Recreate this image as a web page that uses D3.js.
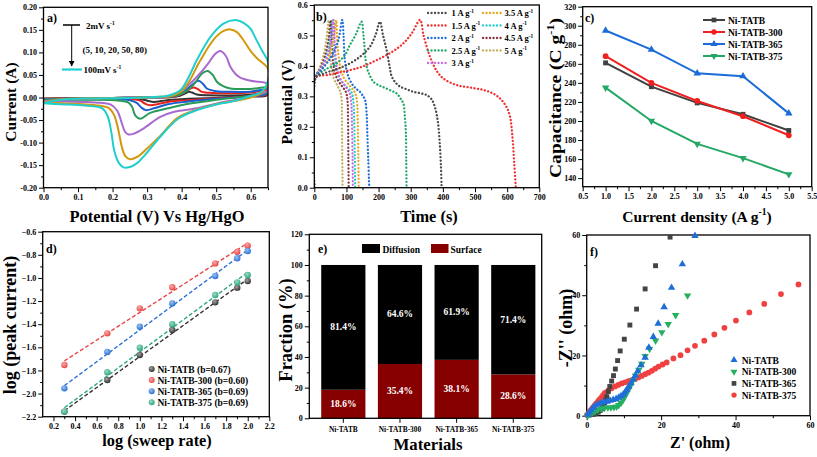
<!DOCTYPE html>
<html><head><meta charset="utf-8">
<script src="https://cdn.jsdelivr.net/npm/d3@7/dist/d3.min.js"></script>
<style>
html,body{margin:0;padding:0;background:#fff;}
svg{display:block;}
</style></head><body>
<svg id="chart" width="817" height="457"></svg>
<script>
// ================= DATA =================
// (a) CV curves at scan rates (mV/s): [potential V, current A]
const cvRates = ["2","5","10","20","50","80","100"];
const cv2 = [[0,-0.002],[0.1,-0.0015],[0.2,-0.001],[0.3,0],[0.37,0.001],[0.395,0.004],[0.41,0.009],[0.42,0.0125],[0.43,0.011],[0.444,0.0067],[0.48,0.005],[0.541,0.0045],[0.6,0.006],[0.65,0.011],[0.645,0.004],[0.6,0.002],[0.5,-0.001],[0.42,-0.003],[0.37,-0.005],[0.34,-0.008],[0.32,-0.0098],[0.305,-0.008],[0.29,-0.005],[0.26,-0.003],[0.15,-0.002],[0,-0.002]];
const cv5 = [[0,-0.003],[0.1,-0.002],[0.2,-0.001],[0.3,0],[0.37,0.001],[0.395,0.006],[0.415,0.015],[0.434,0.022],[0.446,0.019],[0.459,0.0125],[0.49,0.01],[0.541,0.0095],[0.6,0.011],[0.65,0.0155],[0.645,0.006],[0.6,0.003],[0.5,-0.002],[0.42,-0.006],[0.36,-0.01],[0.33,-0.015],[0.309,-0.017],[0.295,-0.014],[0.28,-0.007],[0.26,-0.004],[0.15,-0.003],[0,-0.003]];
const cv10 = [[0,-0.004],[0.1,-0.002],[0.2,-0.001],[0.3,0],[0.37,0.002],[0.4,0.009],[0.425,0.025],[0.449,0.037],[0.462,0.03],[0.473,0.02],[0.5,0.014],[0.541,0.0125],[0.6,0.013],[0.65,0.018],[0.645,0.008],[0.6,0.003],[0.5,-0.003],[0.42,-0.009],[0.36,-0.015],[0.32,-0.024],[0.297,-0.028],[0.283,-0.022],[0.27,-0.012],[0.25,-0.006],[0.15,-0.004],[0,-0.004]];
const cv20 = [[0,-0.005],[0.1,-0.002],[0.2,-0.001],[0.3,0],[0.37,0.002],[0.405,0.01],[0.434,0.028],[0.459,0.053],[0.475,0.059],[0.49,0.05],[0.502,0.035],[0.52,0.025],[0.541,0.02],[0.6,0.019],[0.65,0.022],[0.645,0.011],[0.6,0.004],[0.5,-0.005],[0.42,-0.014],[0.36,-0.024],[0.309,-0.034],[0.28,-0.047],[0.266,-0.04],[0.256,-0.02],[0.245,-0.011],[0.22,-0.007],[0.12,-0.005],[0,-0.005]];
const cv50 = [[0,-0.008],[0.1,-0.003],[0.2,-0.001],[0.3,0],[0.36,0.002],[0.395,0.012],[0.43,0.035],[0.455,0.055],[0.478,0.077],[0.495,0.095],[0.512,0.103],[0.528,0.092],[0.541,0.068],[0.556,0.052],[0.57,0.044],[0.6,0.037],[0.65,0.03],[0.648,0.015],[0.62,0.006],[0.58,-0.002],[0.52,-0.01],[0.444,-0.024],[0.376,-0.032],[0.338,-0.043],[0.289,-0.069],[0.262,-0.08],[0.246,-0.082],[0.236,-0.076],[0.226,-0.055],[0.214,-0.03],[0.195,-0.016],[0.15,-0.011],[0.05,-0.009],[0,-0.008]];
const cv80 = [[0,-0.011],[0.05,-0.004],[0.15,-0.002],[0.25,-0.001],[0.33,0.001],[0.37,0.004],[0.4,0.014],[0.425,0.04],[0.451,0.078],[0.492,0.128],[0.52,0.147],[0.541,0.151],[0.56,0.145],[0.579,0.127],[0.6,0.103],[0.618,0.087],[0.65,0.064],[0.648,0.03],[0.63,0.01],[0.6,0.0],[0.55,-0.008],[0.5,-0.015],[0.444,-0.027],[0.39,-0.044],[0.338,-0.085],[0.3,-0.113],[0.275,-0.13],[0.25,-0.137],[0.237,-0.13],[0.227,-0.11],[0.217,-0.073],[0.205,-0.04],[0.19,-0.024],[0.15,-0.017],[0.05,-0.013],[0,-0.011]];
const cv100 = [[0,-0.013],[0.05,-0.005],[0.15,-0.002],[0.25,-0.001],[0.32,0.001],[0.36,0.004],[0.396,0.016],[0.42,0.045],[0.444,0.083],[0.483,0.134],[0.521,0.164],[0.56,0.1715],[0.58,0.165],[0.599,0.153],[0.615,0.13],[0.632,0.105],[0.65,0.079],[0.649,0.035],[0.63,0.012],[0.589,0.001],[0.55,-0.008],[0.492,-0.017],[0.444,-0.028],[0.39,-0.047],[0.338,-0.087],[0.3,-0.122],[0.27,-0.146],[0.25,-0.154],[0.232,-0.155],[0.218,-0.145],[0.205,-0.118],[0.196,-0.075],[0.185,-0.04],[0.17,-0.024],[0.12,-0.018],[0.05,-0.015],[0,-0.013]];

// (b) GCD curves at current densities (A/g): [time s, potential V]
const gcdDensities = ["1","1.5","2","2.5","3","3.5","4","4.5","5"];
const gcd1 = [[0,0],[3,0.36],[30,0.375],[70,0.39],[101,0.403],[142,0.43],[173,0.463],[190,0.5],[204,0.545],[214,0.5],[225,0.452],[234,0.4],[241,0.365],[253,0.345],[267,0.332],[290,0.322],[308,0.315],[330,0.31],[350,0.304],[365,0.29],[375,0.266],[384,0.22],[390,0.15],[394,0.07],[396,0]];
const gcd15 = [[0,0],[3,0.36],[40,0.37],[111,0.386],[150,0.398],[194,0.419],[240,0.445],[277,0.474],[305,0.51],[329,0.551],[340,0.5],[360,0.43],[380,0.385],[401,0.359],[443,0.337],[490,0.328],[526,0.321],[555,0.31],[578,0.293],[598,0.265],[609,0.233],[617,0.16],[622,0.08],[627,0]];
const gcd2 = [[0,0],[3,0.36],[20,0.385],[40,0.41],[60,0.445],[75,0.485],[87,0.551],[91,0.5],[95,0.42],[103,0.375],[116,0.343],[130,0.325],[142,0.315],[152,0.3],[158,0.288],[163,0.24],[165,0.178],[168,0.09],[171,0]];
const gcd25 = [[0,0],[3,0.36],[30,0.385],[69,0.408],[95,0.435],[111,0.469],[130,0.505],[147,0.545],[153,0.5],[163,0.397],[172,0.37],[184,0.348],[200,0.337],[215,0.33],[240,0.318],[256,0.31],[270,0.29],[277,0.277],[282,0.23],[285,0.178],[286,0.09],[287,0]];
const gcd3 = [[0,0],[3,0.36],[20,0.39],[40,0.43],[52,0.48],[60,0.55],[64,0.47],[70,0.4],[80,0.36],[95,0.335],[108,0.315],[114,0.29],[117,0.22],[119,0.1],[120,0]];
const gcd35 = [[0,0],[3,0.36],[25,0.39],[45,0.43],[60,0.49],[68,0.55],[72,0.47],[80,0.4],[92,0.36],[110,0.335],[125,0.315],[132,0.29],[135,0.22],[137,0.1],[138,0]];
const gcd4 = [[0,0],[3,0.36],[20,0.39],[38,0.43],[50,0.49],[57,0.55],[61,0.47],[67,0.4],[78,0.36],[96,0.335],[115,0.315],[121,0.29],[124,0.22],[126,0.1],[127,0]];
const gcd45 = [[0,0],[3,0.36],[18,0.39],[33,0.43],[45,0.49],[51,0.55],[55,0.47],[60,0.4],[70,0.36],[85,0.335],[98,0.315],[103,0.29],[105,0.22],[106,0.1],[107,0]];
const gcd5 = [[0,0],[3,0.36],[15,0.39],[28,0.43],[38,0.49],[45,0.55],[48,0.47],[52,0.4],[60,0.36],[72,0.335],[81,0.315],[85,0.29],[86,0.22],[87,0.1],[88,0]];

// (c) specific capacity
const sampleNames = ["Ni-TATB","Ni-TATB-300","Ni-TATB-365","Ni-TATB-375"];
const currentDensity = [1,2,3,4,5];
const capTATB = [261,236,219,207,190];
const cap300 = [268,240,221,205,185];
const cap365 = [295,275,250,247,208];
const cap375 = [235,200,176,161,144];

// (d) log(peak current) vs log(sweep rate)
const logSweep = [0.301,0.699,1.0,1.301,1.699,1.903,2.0];
const logTATB = [-2.156,-1.882,-1.666,-1.45,-1.211,-1.084,-1.027];
const log300 = [-1.753,-1.479,-1.263,-1.081,-0.874,-0.773,-0.721];
const log365 = [-1.955,-1.64,-1.421,-1.22,-0.983,-0.83,-0.767];
const log375 = [-2.156,-1.816,-1.603,-1.401,-1.148,-1.038,-0.975];
const bValues = [0.67,0.60,0.69,0.69];
const fitIntercept = [-2.35,-1.898,-2.139,-2.33];

// (e) capacitive contribution
const materials = ["Ni-TATB","Ni-TATB-300","Ni-TATB-365","Ni-TATB-375"];
const diffusionPct = [81.4,64.6,61.9,71.4];
const surfacePct = [18.6,35.4,38.1,28.6];

// (f) Nyquist plots [Z', -Z'']
const eisTATB = [[0.3,0.4],[0.7,1.1],[1.2,1.9],[1.8,2.7],[2.4,3.4],[3.1,3.9],[3.9,4.3],[4.7,4.5],[5.5,4.7],[6.3,5.0],[7.1,5.3],[7.9,5.6],[8.6,6.0],[9.2,6.5],[9.8,7.0],[10.3,7.8],[10.8,8.7],[11.3,9.7],[11.9,10.8],[12.5,12.1],[13.1,13.3],[13.7,14.8],[14.6,16.8],[15.7,19.3],[16.7,22.6],[17.9,26.2],[19.2,30.6],[20.8,36.1],[22.8,42.5],[25.7,50.3],[29.1,59.7]];
const eis300 = [[0.3,0.1],[0.9,0.5],[1.5,1.0],[2.2,1.4],[3.0,1.9],[3.9,2.3],[4.8,2.6],[5.7,2.7],[6.5,2.7],[7.3,2.8],[8.0,3.0],[8.6,3.5],[9.2,4.2],[9.7,5.1],[10.2,6.2],[10.7,7.4],[11.2,8.6],[11.8,10.0],[12.4,11.6],[13.1,13.3],[14.0,15.2],[14.8,17.2],[15.7,19.8],[16.9,22.2],[18.5,24.9],[20.2,27.7],[21.9,30.4],[23.9,33.4],[27.1,39.9]];
const eis365 = [[0.4,0.2],[0.9,0.3],[1.4,0.4],[2.0,0.5],[2.6,0.8],[3.1,1.2],[3.6,1.7],[4.0,2.3],[4.4,3.1],[4.8,4.2],[5.1,5.3],[5.4,6.3],[5.8,8.0],[6.2,9.7],[6.7,11.5],[7.2,13.3],[7.7,15.5],[8.3,18.3],[9.0,21.5],[10.1,25.4],[11.6,30.1],[13.4,35.4],[15.7,42.1],[18.5,49.8],[22.4,59.3]];
const eis375 = [[0.1,0.2],[0.4,0.7],[0.7,1.2],[1.0,1.7],[1.4,2.3],[1.8,2.9],[2.2,3.5],[2.6,4.1],[3.0,4.7],[3.4,5.3],[3.9,6.0],[4.4,6.8],[4.9,7.6],[5.8,8.4],[6.7,9.1],[7.6,9.7],[8.5,10.2],[9.4,10.7],[10.3,11.1],[11.2,11.5],[12.1,11.8],[13.0,12.2],[13.9,12.7],[14.8,13.2],[15.7,13.8],[16.6,14.3],[17.5,14.9],[18.4,15.6],[19.3,16.3],[20.4,17.0],[21.5,17.7],[23.3,19.0],[25.2,20.1],[27.1,21.7],[29.1,23.2],[31.6,24.9],[34.3,27.0],[37.0,29.2],[40.1,31.6],[43.7,34.3],[47.7,37.1],[52.2,40.4],[56.9,43.6]];

// ================= DRAWING =================
const svg = d3.select("#chart");
const defs = svg.append("defs");
const FF = '"Liberation Serif","Times New Roman",Times,serif';
const TICK_FS = 8;

function styleAxis(sel, fs){
  sel.attr("font-family",null).attr("font-size",null);
  sel.select(".domain").remove();
  sel.selectAll(".tick line").attr("stroke","#000").attr("stroke-width",1);
  sel.selectAll(".tick text").attr("font-family",FF).attr("font-weight","bold")
     .attr("font-size",fs||TICK_FS).attr("fill","#000");
}
let clipN = 0;
function panel(o){
  const g = svg.append("g");
  const x = o.xScale || d3.scaleLinear().domain(o.xd).range([o.l,o.r]);
  const y = d3.scaleLinear().domain(o.yd).range([o.b,o.t]);
  const id = "clip"+(clipN++);
  defs.append("clipPath").attr("id",id).append("rect")
    .attr("x",o.l).attr("y",o.t).attr("width",o.r-o.l).attr("height",o.b-o.t);
  const plot = g.append("g").attr("clip-path",`url(#${id})`);
  const ax = g.append("g");
  if(o.xMinor) ax.append("g").attr("transform",`translate(0,${o.b})`)
     .call(d3.axisBottom(x).tickValues(o.xMinor).tickSize(2.5).tickFormat("")).call(styleAxis);
  ax.append("g").attr("transform",`translate(0,${o.b})`)
     .call(d3.axisBottom(x).tickValues(o.xMajor).tickSize(4.5).tickPadding(o.xPad||2.5).tickFormat(o.xFmt)).call(styleAxis,o.xFs);
  if(o.yMinor) ax.append("g").attr("transform",`translate(${o.l},0)`)
     .call(d3.axisLeft(y).tickValues(o.yMinor).tickSize(2.5).tickFormat("")).call(styleAxis);
  ax.append("g").attr("transform",`translate(${o.l},0)`)
     .call(d3.axisLeft(y).tickValues(o.yMajor).tickSize(4.5).tickPadding(2).tickFormat(o.yFmt)).call(styleAxis);
  ax.append("rect").attr("x",o.l).attr("y",o.t).attr("width",o.r-o.l).attr("height",o.b-o.t)
    .attr("fill","none").attr("stroke","#000").attr("stroke-width",1.3);
  const free = g.append("g");
  return {g,plot,free,x,y};
}
function rich(sel, parts, fs){
  let up=false;
  parts.forEach(p=>{
    const t = sel.append("tspan");
    if(p[0]==="^"){ t.attr("font-size",fs*0.62).attr("dy",-fs*0.4).text(p.slice(1)); up=true; }
    else { if(up){ t.attr("dy",fs*0.4); up=false; } t.text(p); }
  });
}
function label(g,x,y,parts,fs,opt={}){
  const t = g.append("text").attr("x",x).attr("y",y).attr("font-family",FF).attr("font-weight","bold")
    .attr("font-size",fs).attr("fill",opt.fill||"#000").attr("text-anchor",opt.anchor||"start");
  if(opt.rotate) t.attr("transform",`rotate(-90,${x},${y})`);
  if(opt.db) t.attr("dominant-baseline",opt.db);
  if(opt.len) t.attr("textLength",opt.len).attr("lengthAdjust","spacingAndGlyphs");
  rich(t,parts,fs);
  return t;
}
const rng = (a,b,s)=>d3.range(Math.round((b-a)/s)+1).map(i=>+(a+i*s).toFixed(6));

// ---------- (a) ----------
const cvColors = ["#333333","#e8201c","#1a5fd0","#2a9a58","#a96ad0","#d4980c","#1fcfcf"];
const cvCurves = [cv2,cv5,cv10,cv20,cv50,cv80,cv100];
const A = panel({l:43.5,r:268,t:7.3,b:187.7,xd:[0,0.65],yd:[-0.2,0.2],
  xMajor:rng(0,0.6,0.1), xMinor:rng(0.05,0.65,0.1), xFmt:d3.format(".1f"),
  yMajor:rng(-0.2,0.2,0.05), yMinor:rng(-0.175,0.175,0.05), yFmt:d=>d3.format(".2f")(d).replace("\u2212","-")});
const cvLine = d3.line().x(d=>A.x(d[0])).y(d=>A.y(d[1])).curve(d3.curveCatmullRom.alpha(0.5));
cvCurves.forEach((c,i)=>{
  A.plot.append("path").attr("d",cvLine(c)).attr("fill","none").attr("stroke",cvColors[i])
    .attr("stroke-width",2).attr("stroke-linejoin","round");
});
defs.append("marker").attr("id","arr").attr("viewBox","0 0 10 10").attr("refX",9).attr("refY",5)
  .attr("markerWidth",6).attr("markerHeight",6).attr("orient","auto")
  .append("path").attr("d","M0,0L10,5L0,10z").attr("fill","#000");
A.free.append("line").attr("x1",63).attr("x2",80).attr("y1",25).attr("y2",25).attr("stroke","#000").attr("stroke-width",1.5);
A.free.append("line").attr("x1",71.7).attr("x2",71.7).attr("y1",25).attr("y2",66).attr("stroke","#000").attr("stroke-width",1).attr("marker-end","url(#arr)");
A.free.append("line").attr("x1",62).attr("x2",82).attr("y1",69.5).attr("y2",69.5).attr("stroke",cvColors[6]).attr("stroke-width",2.2);
label(A.free,86,28.5,[cvRates[0]+"mV s","^-1"],9);
label(A.free,82.5,53,["(" + cvRates.slice(1,6).join(", ") + ")"],9);
label(A.free,83.5,72.5,[cvRates[6]+"mV s","^-1"],9);
label(A.free,47,22,["a)"],12);
label(svg,157,221.5,["Potential (V) Vs Hg/HgO"],16.4,{anchor:"middle"});
label(svg,15.5,102,["Current (A)"],15.5,{anchor:"middle",rotate:true});

// ---------- (b) ----------
const gcdColors = ["#4a4a4a","#f03030","#2070d8","#20a868","#c86ae0","#e8a818","#20d0d0","#883040","#c0b060"];
const gcdCurves = [gcd1,gcd15,gcd2,gcd25,gcd3,gcd35,gcd4,gcd45,gcd5];
const B = panel({l:314.3,r:539.3,t:5,b:187.7,xd:[0,700],yd:[0,0.6],
  xMajor:rng(0,700,100), xMinor:rng(50,650,100), xFmt:d3.format("d"),
  yMajor:rng(0,0.6,0.1), yMinor:rng(0.05,0.55,0.1), yFmt:d3.format(".1f")});
const gcdLine = d3.line().x(d=>B.x(d[0])).y(d=>B.y(d[1])).curve(d3.curveCatmullRom.alpha(0.5));
gcdCurves.slice().reverse().forEach((c,ri)=>{
  const i = gcdCurves.length-1-ri;
  B.plot.append("path").attr("d",gcdLine(c)).attr("fill","none").attr("stroke",gcdColors[i])
    .attr("stroke-width",2.3).attr("stroke-dasharray","0.1,3.4").attr("stroke-linecap","round");
});
gcdDensities.forEach((dd,i)=>{
  const col = i<5?0:1, row = i<5?i:i-5;
  const cy = 13 + row*12.5;
  const x0 = col===0?428:483, x1 = col===0?448:501;
  B.free.append("line").attr("x1",x0).attr("x2",x1).attr("y1",cy).attr("y2",cy)
    .attr("stroke",gcdColors[i]).attr("stroke-width",2.3).attr("stroke-dasharray","0.1,3.4").attr("stroke-linecap","round");
  label(B.free,x1+3.5,cy+3,[dd+" A g","^-1"],8.5);
});
label(B.free,316,21,["b)"],12);
label(svg,429,221.5,["Time (s)"],16.4,{anchor:"middle"});
label(svg,292,102,["Potential (V)"],15.5,{anchor:"middle",rotate:true});

// ---------- (c) ----------
const capColors = ["#404040","#ee2020","#1c6cd8","#25a865"];
const capSeries = [capTATB,cap300,cap365,cap375];
const symTypes = [d3.symbolSquare,d3.symbolCircle,d3.symbolTriangle,d3.symbolTriangle];
const symRot = [0,0,0,180];
const C = panel({l:582.7,r:811.7,t:6.7,b:186.7,xd:[0.5,5.5],yd:[131,320],
  xMajor:rng(0.5,5.5,0.5), xMinor:rng(0.75,5.25,0.5), xFmt:d3.format(".1f"),
  yMajor:rng(140,320,20), yMinor:rng(150,310,20), yFmt:d3.format("d")});
const capLine = d3.line().x((d,i)=>C.x(currentDensity[i])).y(d=>C.y(d));
capSeries.forEach((s,k)=>{
  C.plot.append("path").attr("d",capLine(s)).attr("fill","none").attr("stroke",capColors[k]).attr("stroke-width",2);
  C.free.selectAll(null).data(s).enter().append("path")
    .attr("d",d3.symbol().type(symTypes[k]).size(k===1?26:24))
    .attr("transform",(d,i)=>`translate(${C.x(currentDensity[i])},${C.y(d)}) rotate(${symRot[k]})`)
    .attr("fill",capColors[k]);
});
sampleNames.forEach((n,k)=>{
  const cy = 20 + k*12;
  C.free.append("line").attr("x1",703).attr("x2",725).attr("y1",cy).attr("y2",cy).attr("stroke",capColors[k]).attr("stroke-width",2);
  C.free.append("path").attr("d",d3.symbol().type(symTypes[k]).size(22))
    .attr("transform",`translate(714,${cy}) rotate(${symRot[k]})`).attr("fill",capColors[k]);
  label(C.free,728,cy+3.5,[n],9.5);
});
label(C.free,585,22,["c)"],12);
label(svg,697,221.5,["Current density (A g","^-1",")"],15.5,{anchor:"middle"});
label(svg,561,98,["Capacitance (C g","^-1",")"],17,{anchor:"middle",rotate:true,len:160});

// ---------- (d) ----------
const dColors = ["#333333","#ea4545","#2a72d6","#2aa87a"];
const dSeries = [logTATB,log300,log365,log375];
dColors.forEach((c,k)=>{
  const gr = defs.append("radialGradient").attr("id","sph"+k).attr("cx","40%").attr("cy","35%").attr("r","65%");
  gr.append("stop").attr("offset","0%").attr("stop-color",d3.interpolateRgb(c,"#fff")(0.55));
  gr.append("stop").attr("offset","100%").attr("stop-color",c);
});
const D = panel({l:42.7,r:269.3,t:231.7,b:416.7,xd:[0.1,2.2],yd:[-2.2,-0.6],
  xMajor:rng(0.2,2.2,0.2), xMinor:rng(0.3,2.1,0.2), xFmt:d3.format(".1f"),
  yMajor:rng(-2.2,-0.6,0.2), yMinor:rng(-2.1,-0.7,0.2), yFmt:d3.format(".1f")});
dSeries.forEach((s,k)=>{
  const xs = [logSweep[0], logSweep[logSweep.length-1]];
  D.plot.append("line").attr("x1",D.x(xs[0])).attr("x2",D.x(xs[1]))
    .attr("y1",D.y(fitIntercept[k]+bValues[k]*xs[0])).attr("y2",D.y(fitIntercept[k]+bValues[k]*xs[1]))
    .attr("stroke",dColors[k]).attr("stroke-width",1.4).attr("stroke-dasharray","4,2.2");
});
dSeries.forEach((s,k)=>{
  D.free.selectAll(null).data(s).enter().append("circle")
    .attr("cx",(d,i)=>D.x(logSweep[i])).attr("cy",d=>D.y(d)).attr("r",3.2).attr("fill",`url(#sph${k})`);
});
sampleNames.forEach((n,k)=>{
  const cy = 369 + k*11.1;
  D.free.append("circle").attr("cx",151.7).attr("cy",cy).attr("r",3).attr("fill",`url(#sph${k})`);
  label(D.free,157.5,cy+3.5,[`${n} (b=${bValues[k].toFixed(2)})`],9.5);
});
label(D.free,46,253,["d)"],12);
label(svg,157,445.5,["log (sweep rate)"],16.3,{anchor:"middle"});
label(svg,16,325,["log (peak current)"],18,{anchor:"middle",rotate:true});

// ---------- (e) ----------
const xBand = d3.scaleBand().domain(materials).range([315,541.6]).paddingInner(0.22).paddingOuter(0.11);
const E = panel({l:309.3,r:541.7,t:234.3,b:418.3,xScale:xBand,yd:[0,120],
  xMajor:materials, xMinor:null, xFmt:d=>d, xFs:7.4, xPad:3.5,
  yMajor:rng(0,120,20), yMinor:rng(10,110,20), yFmt:d3.format("d")});
const surfColor = "#860000";
materials.forEach((m,i)=>{
  const x0 = xBand(m), w = xBand.bandwidth();
  E.plot.append("rect").attr("x",x0).attr("width",w).attr("y",E.y(surfacePct[i])).attr("height",E.y(0)-E.y(surfacePct[i])).attr("fill",surfColor);
  E.plot.append("rect").attr("x",x0).attr("width",w).attr("y",E.y(surfacePct[i]+diffusionPct[i])).attr("height",E.y(surfacePct[i])-E.y(surfacePct[i]+diffusionPct[i])).attr("fill","#000");
  label(E.free,x0+w/2,E.y(surfacePct[i]+diffusionPct[i]/2),[diffusionPct[i].toFixed(1)+"%"],9.5,{anchor:"middle",fill:"#fff",db:"central"});
  label(E.free,x0+w/2,E.y(surfacePct[i]/2),[surfacePct[i].toFixed(1)+"%"],9.5,{anchor:"middle",fill:"#fff",db:"central"});
});
E.free.append("rect").attr("x",362).attr("y",244).attr("width",18).attr("height",9).attr("fill","#000");
label(E.free,382.5,252.5,["Diffusion"],9.5);
E.free.append("rect").attr("x",431).attr("y",244).attr("width",17.5).attr("height",9).attr("fill",surfColor);
label(E.free,450.5,252.5,["Surface"],9.5);
label(E.free,318,253,["e)"],12);
label(svg,428,449.5,["Materials"],16.8,{anchor:"middle"});
label(svg,292,330,["Fraction (%)"],18.5,{anchor:"middle",rotate:true});

// ---------- (f) ----------
const F = panel({l:586.7,r:810,t:235,b:415.7,xd:[0,60],yd:[0,60],
  xMajor:[0,20,40,60], xMinor:[10,30,50], xFmt:d3.format("d"),
  yMajor:[0,20,40,60], yMinor:[10,30,50], yFmt:d3.format("d")});
const fSeries = [eisTATB,eis300,eis365,eis375];
const fColors = ["#1f6ed8","#25b060","#444444","#f04040"];
const fSym = [d3.symbolTriangle,d3.symbolTriangle,d3.symbolSquare,d3.symbolCircle];
const fRot = [0,180,0,0];
[3,2,1,0].forEach(k=>{
  F.free.selectAll(null).data(fSeries[k]).enter().append("path")
    .attr("d",d3.symbol().type(fSym[k]).size(k===3?26:24))
    .attr("transform",d=>`translate(${F.x(d[0])},${F.y(d[1])}) rotate(${fRot[k]})`)
    .attr("fill",fColors[k]);
});
sampleNames.forEach((n,k)=>{
  const cy = 360 + k*11.7;
  F.free.append("path").attr("d",d3.symbol().type(fSym[k]).size(22))
    .attr("transform",`translate(734,${cy}) rotate(${fRot[k]})`).attr("fill",fColors[k]);
  label(F.free,741.7,cy+3.5,[n],9.5);
});
label(F.free,590,256,["f)"],12);
label(svg,700,448,["Z' (ohm)"],16,{anchor:"middle"});
label(svg,572,328,["-Z'' (ohm)"],18,{anchor:"middle",rotate:true});
</script>
</body></html>
